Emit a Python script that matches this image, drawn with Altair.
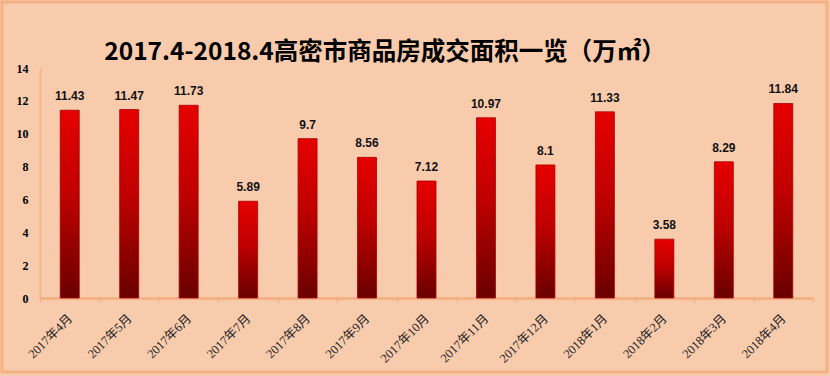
import altair as alt
import pandas as pd

months = ["2017年4月", "2017年5月", "2017年6月", "2017年7月", "2017年8月", "2017年9月",
          "2017年10月", "2017年11月", "2017年12月", "2018年1月", "2018年2月", "2018年3月", "2018年4月"]
values = [11.43, 11.47, 11.73, 5.89, 9.7, 8.56, 7.12, 10.97, 8.1, 11.33, 3.58, 8.29, 11.84]
labels = ["11.43", "11.47", "11.73", "5.89", "9.7", "8.56", "7.12", "10.97", "8.1", "11.33", "3.58", "8.29", "11.84"]
y_ticks = [0, 2, 4, 6, 8, 10, 12, 14]
title_text = "2017.4-2018.4高密市商品房成交面积一览（万㎡）"

df = pd.DataFrame({"month": months, "value": values, "label": labels})

BG = "#F8CBAD"
FRAME = "#F4B183"

x_enc = alt.X("month:N", sort=months, title=None,
              scale=alt.Scale(paddingInner=0, paddingOuter=0),
              axis=alt.Axis(labelAngle=-45, labelAlign="right", labelBaseline="middle",
                            labelFont="Liberation Serif, Noto Sans CJK SC", labelFontSize=12.5,
                            labelColor="#222222", labelPadding=14,
                            domainColor=FRAME, domainWidth=3,
                            tickColor=FRAME, tickWidth=1.5, tickSize=4, tickBand="extent",
                            grid=False))
y_enc = alt.Y("value:Q", title=None,
              scale=alt.Scale(domain=[0, 14], nice=False),
              axis=alt.Axis(values=y_ticks, tickCount=8, labelOverlap=False, labelFlush=False,
                            labelBound=False,
                            labelFont="Liberation Serif", labelFontWeight="bold",
                            labelFontSize=12, labelColor="#000000", labelPadding=12,
                            tickSize=0, domainColor="#F2B48A", domainWidth=2, grid=False))

gradient = alt.Gradient(
    gradient="linear",
    stops=[alt.GradientStop(color="#E60000", offset=0),
           alt.GradientStop(color="#C00000", offset=0.45),
           alt.GradientStop(color="#690000", offset=1)],
    x1=0, x2=0, y1=0, y2=1)

base = alt.Chart(df)

bars = base.mark_bar(size=19, color=gradient, stroke="#A80000", strokeWidth=0.8).encode(
    x=x_enc, y=y_enc)

text = base.mark_text(dy=-10, baseline="alphabetic", font="Liberation Sans",
                      fontWeight="bold", fontSize=12, color="#111111").encode(
    x=x_enc, y=y_enc, text="label:N")

title_df = pd.DataFrame({"t": [title_text]})
title = alt.Chart(title_df).mark_text(font="Noto Sans CJK SC", fontWeight="bold", fontSize=24.5,
                                      align="center", baseline="alphabetic", color="#000000").encode(
    x=alt.value(345), y=alt.value(-8), text="t:N")

frame = alt.Chart(title_df).mark_rect(fill=None, stroke=FRAME, strokeWidth=3).encode(
    x=alt.value(-38), x2=alt.value(787), y=alt.value(-66), y2=alt.value(304))

chart = alt.layer(frame, bars, text, title).properties(
    width=773, height=230, background=BG,
    padding={"left": 40, "top": 68, "right": 17, "bottom": 78},
    autosize=alt.AutoSizeParams(type="none"),
).configure_view(stroke=None).configure_axis(labelOverlap=False)

chart.save("out.html", embed_options={"renderer": "svg", "actions": False})
